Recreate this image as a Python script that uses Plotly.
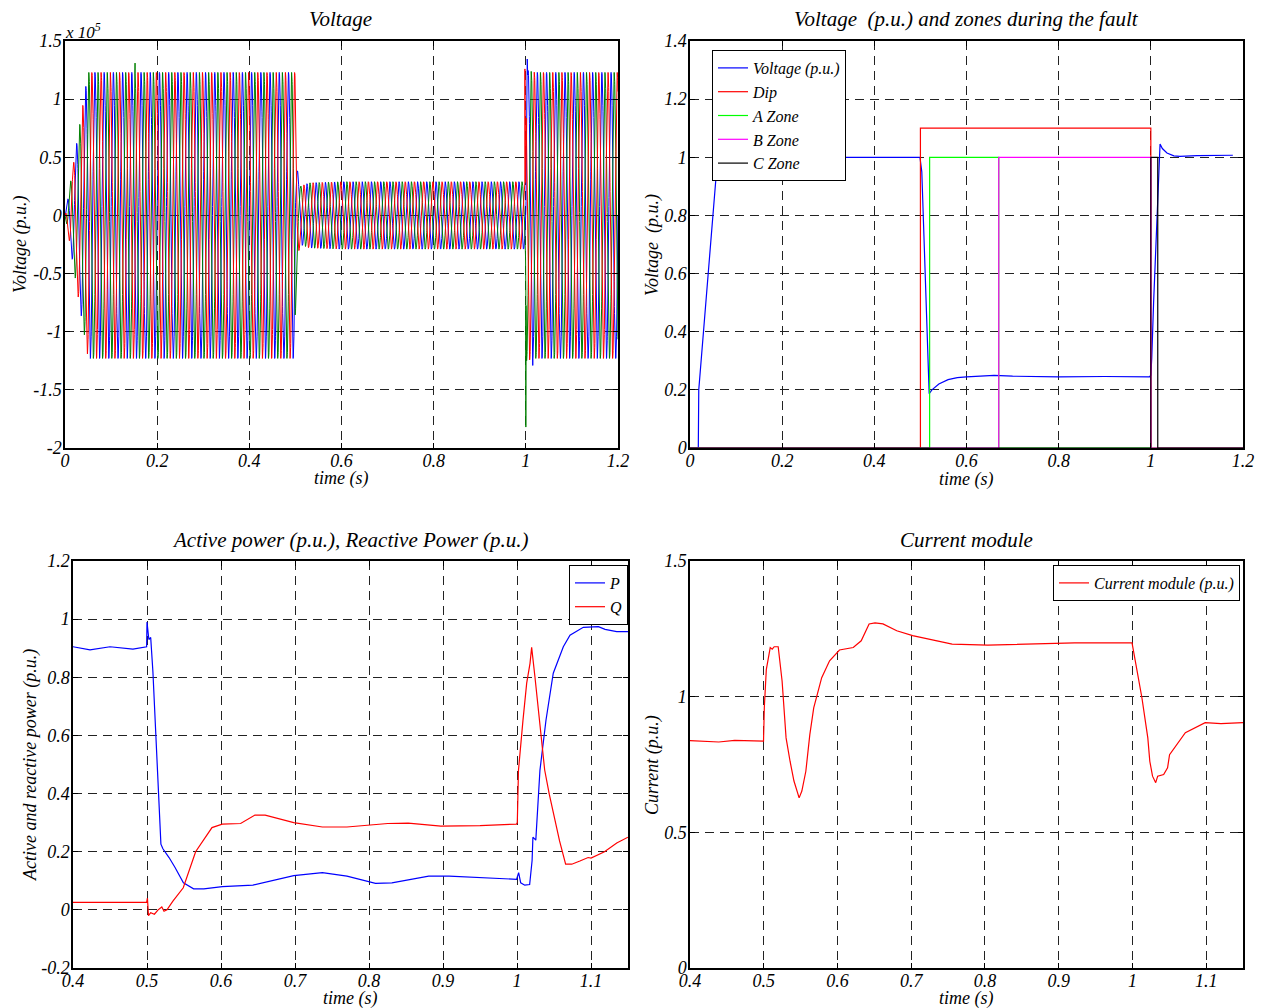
import numpy as np
import plotly.graph_objects as go

W, H = 1265, 1008

# ------------------------------------------------------------------ data
# Top-left: three-phase voltage (x 1e5). Envelope.
WAVE_FREQ_HZ = 50.0
wave_env_t = [0.0, 0.05, 0.499, 0.502, 0.51, 0.53, 0.6, 0.999, 1.001, 1.02, 1.2]
wave_env_a = [0.0, 1.23, 1.23, 0.45, 0.25, 0.28, 0.29, 0.29, 1.25, 1.23, 1.23]
phase_colors = ["#0000ff", "#008000", "#ff0000"]
# isolated transient peaks (phase index, time, value)
spike_phase = [1, 0, 1, 0, 2, 2]
spike_t = [0.152, 1.003, 1.0, 1.015, 0.501, 0.998]
spike_v = [1.31, 1.345, -1.82, -1.29, 0.36, 1.26]

# Top-right: voltage p.u. and zones
volt_t = [0, 0.018, 0.019, 0.06, 0.1, 0.2, 0.3, 0.4, 0.499, 0.503, 0.519, 0.525, 0.54,
          0.56, 0.58, 0.6, 0.63, 0.66, 0.7, 0.8, 0.9, 0.997, 1.0, 1.002, 1.006, 1.012,
          1.018, 1.02, 1.025, 1.035, 1.05, 1.063, 1.1, 1.178]
volt_v = [0, 0, 0.2, 1.0, 1.0, 1.0, 1.0, 1.001, 1.0, 0.95, 0.187, 0.2, 0.22,
          0.235, 0.242, 0.245, 0.248, 0.25, 0.247, 0.245, 0.246, 0.245, 0.25, 0.31, 0.5, 0.72,
          1.0, 1.046, 1.03, 1.015, 1.005, 1.003, 1.006, 1.007]
dip_t = [0, 0.5, 0.5, 1.0, 1.0, 1.2]
dip_v = [0, 0, 1.1, 1.1, 0, 0]
zoneA_t = [0, 0.52, 0.52, 0.67, 0.67, 1.2]
zoneA_v = [0, 0, 1, 1, 0, 0]
zoneB_t = [0, 0.67, 0.67, 1.0, 1.0, 1.2]
zoneB_v = [0, 0, 1, 1, 0, 0]
zoneC_t = [0, 1.0, 1.0, 1.015, 1.015, 1.2]
zoneC_v = [0, 0, 1, 1, 0, 0]

# Bottom-left: active / reactive power
p_t = [0.4, 0.423, 0.45, 0.481, 0.4995, 0.5, 0.5025, 0.505, 0.508, 0.5133, 0.5188,
       0.5215, 0.5298, 0.5381, 0.5492, 0.563, 0.5768, 0.6017, 0.6431, 0.6983, 0.737,
       0.7702, 0.8088, 0.8309, 0.8807, 0.9083, 0.95, 0.9994, 1.0022, 1.005, 1.0105,
       1.0171, 1.0204, 1.0215, 1.0254, 1.031, 1.0392, 1.049, 1.0626, 1.0716, 1.0896,
       1.0986, 1.11, 1.119, 1.1347, 1.15]
p_v = [0.905, 0.894, 0.905, 0.897, 0.905, 0.99, 0.93, 0.937, 0.818, 0.515, 0.226,
       0.21, 0.18, 0.145, 0.093, 0.0725, 0.072, 0.08, 0.085, 0.118, 0.128,
       0.116, 0.091, 0.093, 0.116, 0.116, 0.11, 0.105, 0.128, 0.093, 0.085,
       0.087, 0.17, 0.25, 0.24, 0.48, 0.653, 0.814, 0.905, 0.945, 0.972,
       0.972, 0.974, 0.965, 0.957, 0.957]
q_t = [0.4, 0.45, 0.4995, 0.5006, 0.502, 0.505, 0.51, 0.515, 0.52, 0.523, 0.527, 0.535,
       0.549, 0.5657, 0.5878, 0.6017, 0.6265, 0.6459, 0.6597, 0.6983, 0.737, 0.7702,
       0.8254, 0.853, 0.8972, 0.95, 0.9994, 1.0004, 1.002, 1.008, 1.0131, 1.0176, 1.0198,
       1.0243, 1.0275, 1.0374, 1.0436, 1.0575, 1.0657, 1.074, 1.085, 1.0961, 1.1,
       1.1182, 1.1348, 1.15]
q_v = [0.026, 0.027, 0.026, 0.04, -0.02, -0.01, -0.015, 0.0, 0.01, -0.005, 0.0, 0.03,
       0.076, 0.2, 0.283, 0.295, 0.297, 0.326, 0.326, 0.30, 0.285, 0.285,
       0.297, 0.298, 0.288, 0.29, 0.295, 0.3, 0.48, 0.65, 0.78, 0.848, 0.903,
       0.80, 0.716, 0.481, 0.398, 0.237, 0.157, 0.157, 0.168, 0.18, 0.178,
       0.2, 0.23, 0.25]

# Bottom-right: current module
cur_t = [0.4, 0.439, 0.4606, 0.4928, 0.4997, 0.5008, 0.5035, 0.5088, 0.5115, 0.5142,
         0.5196, 0.5249, 0.5303, 0.5357, 0.541, 0.548, 0.5517, 0.5571, 0.5625, 0.5678,
         0.5786, 0.5893, 0.6027, 0.6214, 0.6322, 0.6429, 0.6509, 0.6617, 0.6804, 0.7019,
         0.7287, 0.7555, 0.8038, 0.8681, 0.9217, 0.9995, 1.0021, 1.0129, 1.0209, 1.0236,
         1.0273, 1.0316, 1.0343, 1.0424, 1.0477, 1.0504, 1.0718, 1.0879, 1.0987, 1.1201,
         1.15]
cur_v = [0.838, 0.833, 0.839, 0.836, 0.836, 0.96, 1.1, 1.181, 1.175, 1.184,
         1.184, 1.058, 0.848, 0.762, 0.689, 0.627, 0.652, 0.725, 0.86, 0.959,
         1.07, 1.132, 1.172, 1.181, 1.206, 1.268, 1.272, 1.268, 1.243, 1.225,
         1.209, 1.194, 1.19, 1.194, 1.198, 1.198, 1.157, 0.996, 0.848, 0.762,
         0.707, 0.683, 0.707, 0.713, 0.738, 0.786, 0.867, 0.891, 0.904, 0.901,
         0.904]

# tick values / labels
tl_xticks = [0, 0.2, 0.4, 0.6, 0.8, 1.0, 1.2]
tl_xlabels = ["0", "0.2", "0.4", "0.6", "0.8", "1", "1.2"]
tl_yticks = [-2, -1.5, -1, -0.5, 0, 0.5, 1, 1.5]
tl_ylabels = ["-2", "-1.5", "-1", "-0.5", "0", "0.5", "1", "1.5"]
tr_yticks = [0, 0.2, 0.4, 0.6, 0.8, 1.0, 1.2, 1.4]
tr_ylabels = ["0", "0.2", "0.4", "0.6", "0.8", "1", "1.2", "1.4"]
b_xticks = [0.4, 0.5, 0.6, 0.7, 0.8, 0.9, 1.0, 1.1]
b_xlabels = ["0.4", "0.5", "0.6", "0.7", "0.8", "0.9", "1", "1.1"]
bl_yticks = [-0.2, 0, 0.2, 0.4, 0.6, 0.8, 1.0, 1.2]
bl_ylabels = ["-0.2", "0", "0.2", "0.4", "0.6", "0.8", "1", "1.2"]
br_yticks = [0, 0.5, 1.0, 1.5]
br_ylabels = ["0", "0.5", "1", "1.5"]

# ------------------------------------------------------------------ figure
FONT = "Liberation Serif"


def fx(x):
    return x / W


def fy(y):
    return 1 - y / H


fig = go.Figure()

# three-phase waveforms
t = np.linspace(0, 1.2, 6001)
env = np.interp(t, wave_env_t, wave_env_a)
for k, col in enumerate(phase_colors):
    y = env * np.sin(2 * np.pi * WAVE_FREQ_HZ * t - 2 * np.pi * k / 3)
    tt = list(t)
    yy = list(y)
    for ph, st, sv in zip(spike_phase, spike_t, spike_v):
        if ph == k:
            i = int(np.searchsorted(tt, st))
            tt.insert(i, st)
            yy.insert(i, sv)
    fig.add_trace(go.Scatter(x=tt, y=yy, mode="lines", line=dict(color=col, width=1),
                             showlegend=False, xaxis="x", yaxis="y"))

# top right
for name, xs, ys, col in [("Voltage (p.u.)", volt_t, volt_v, "#0000ff"),
                          ("Dip", dip_t, dip_v, "#ff0000"),
                          ("A Zone", zoneA_t, zoneA_v, "#00ff00"),
                          ("B Zone", zoneB_t, zoneB_v, "#ff00ff"),
                          ("C Zone", zoneC_t, zoneC_v, "#000000")]:
    fig.add_trace(go.Scatter(x=xs, y=ys, mode="lines", name=name,
                             line=dict(color=col, width=1.2),
                             xaxis="x2", yaxis="y2", legend="legend"))

# bottom left
fig.add_trace(go.Scatter(x=p_t, y=p_v, mode="lines", name="P",
                         line=dict(color="#0000ff", width=1.2),
                         xaxis="x3", yaxis="y3", legend="legend2"))
fig.add_trace(go.Scatter(x=q_t, y=q_v, mode="lines", name="Q",
                         line=dict(color="#ff0000", width=1.2),
                         xaxis="x3", yaxis="y3", legend="legend2"))

# bottom right
fig.add_trace(go.Scatter(x=cur_t, y=cur_v, mode="lines", name="Current module (p.u.)",
                         line=dict(color="#ff0000", width=1.2),
                         xaxis="x4", yaxis="y4", legend="legend3"))

tickfont = dict(family=FONT, size=18, color="black", style="italic")


def axis(domain, rng, tv, tt, anchor, is_x):
    d = dict(domain=domain, range=rng, tickvals=tv, ticktext=tt, anchor=anchor,
             automargin=False,
             showline=True, linecolor="black", linewidth=1.5, mirror="ticks",
             ticks="inside", ticklen=5, tickcolor="black",
             showgrid=True, gridcolor="#222222", gridwidth=1, griddash="9px,6px",
             zeroline=False, tickfont=tickfont, fixedrange=True)
    d["ticklabelstandoff"] = -4 if is_x else -2
    return d


legfont = dict(family=FONT, size=16, color="black", style="italic")

fig.update_layout(
    template="none",
    width=W, height=H, margin=dict(l=0, r=0, t=0, b=0, autoexpand=False),
    paper_bgcolor="white", plot_bgcolor="white",
    xaxis=axis([fx(65), fx(618)], [0, 1.2], tl_xticks, tl_xlabels, "y", True),
    yaxis=axis([fy(448), fy(41)], [-2, 1.5], tl_yticks, tl_ylabels, "x", False),
    xaxis2=axis([fx(690), fx(1243)], [0, 1.2], tl_xticks, tl_xlabels, "y2", True),
    yaxis2=axis([fy(448), fy(41)], [0, 1.4], tr_yticks, tr_ylabels, "x2", False),
    xaxis3=axis([fx(73), fx(628)], [0.4, 1.15], b_xticks, b_xlabels, "y3", True),
    yaxis3=axis([fy(968), fy(561)], [-0.2, 1.2], bl_yticks, bl_ylabels, "x3", False),
    xaxis4=axis([fx(690), fx(1243)], [0.4, 1.15], b_xticks, b_xlabels, "y4", True),
    yaxis4=axis([fy(968), fy(561)], [0, 1.5], br_yticks, br_ylabels, "x4", False),
    legend=dict(x=fx(712), y=fy(50), xanchor="left", yanchor="top",
                bgcolor="white", bordercolor="black", borderwidth=1,
                font=legfont, itemwidth=30, tracegroupgap=0),
    legend2=dict(x=fx(628), y=fy(565), xanchor="right", yanchor="top",
                 bgcolor="white", bordercolor="black", borderwidth=1,
                 font=legfont, itemwidth=30),
    legend3=dict(x=fx(1240), y=fy(565), xanchor="right", yanchor="top",
                 bgcolor="white", bordercolor="black", borderwidth=1,
                 font=legfont, itemwidth=30),
)

texts = [
    ("Voltage", 340, 19, 21, 0),
    ("Voltage  (p.u.) and zones during the fault", 966, 19, 21, 0),
    ("Active power (p.u.), Reactive Power (p.u.)", 350, 540, 21, 0),
    ("Current module", 966, 540, 21, 0),
    ("time (s)", 341, 478, 18, 0),
    ("time (s)", 966, 479, 18, 0),
    ("time (s)", 350, 998, 18, 0),
    ("time (s)", 966, 998, 18, 0),
    ("Voltage (p.u.)", 20, 245, 18, -90),
    ("Voltage  (p.u.)", 652, 245, 18, -90),
    ("Active and reactive power (p.u.)", 30, 765, 18, -90),
    ("Current (p.u.)", 652, 765, 18, -90),
]
for txt, x, y, size, ang in texts:
    fig.add_annotation(text=txt, x=fx(x), y=fy(y), xref="paper", yref="paper",
                       xanchor="center", yanchor="middle", showarrow=False,
                       textangle=ang,
                       font=dict(family=FONT, size=size, color="black", style="italic"))
fig.add_annotation(text="x 10<sup>5</sup>", x=fx(63), y=fy(31), xref="paper", yref="paper",
                   xanchor="left", yanchor="middle", showarrow=False,
                   font=dict(family=FONT, size=17, color="black", style="italic"))

fig.write_html("out.html", config={"displayModeBar": False},
               post_script="document.body.style.margin='0';")
